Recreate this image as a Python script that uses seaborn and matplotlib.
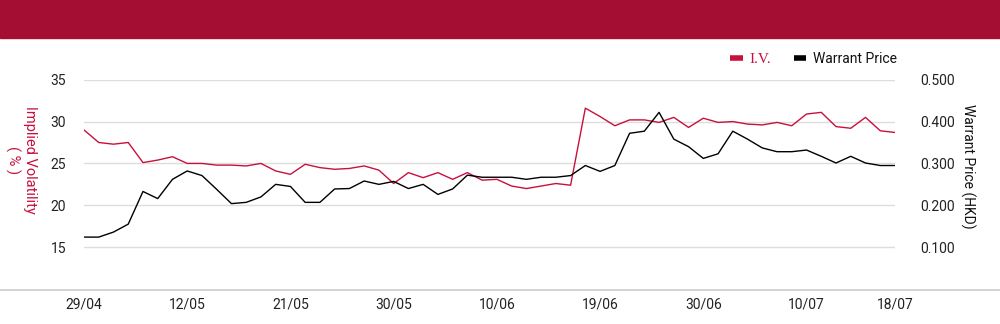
import numpy as np
import pandas as pd
import matplotlib
matplotlib.use("Agg")
import matplotlib.pyplot as plt
import seaborn as sns
from matplotlib.lines import Line2D

# ---- data ----
dates = ["29/04", "30/04", "02/05", "06/05", "07/05", "08/05", "09/05", "12/05",
         "13/05", "14/05", "15/05", "16/05", "19/05", "20/05", "21/05",
         "22/05", "23/05", "26/05", "27/05", "28/05", "29/05", "30/05",
         "03/06", "04/06", "05/06", "06/06", "07/06", "09/06", "10/06",
         "11/06", "12/06", "13/06", "16/06", "17/06", "18/06", "19/06",
         "20/06", "23/06", "24/06", "25/06", "26/06", "27/06", "30/06",
         "02/07", "03/07", "04/07", "07/07", "08/07", "09/07", "10/07",
         "11/07", "14/07", "15/07", "16/07", "17/07", "18/07"]
iv = [29.0, 27.5, 27.3, 27.5, 25.1, 25.4, 25.8, 25.0, 25.0, 24.8, 24.8, 24.7, 25.0, 24.1, 23.7,
      24.9, 24.5, 24.3, 24.4, 24.7, 24.2, 22.6, 23.9, 23.3, 23.9, 23.1, 23.9, 23.0, 23.1,
      22.3, 22.0, 22.3, 22.6, 22.4, 31.6, 30.6, 29.5, 30.2, 30.2, 29.9, 30.5, 29.3, 30.4,
      29.9, 30.0, 29.7, 29.6, 29.9, 29.5, 30.9, 31.1, 29.4, 29.2, 30.5, 28.9, 28.7]
price = [0.124, 0.124, 0.136, 0.155, 0.233, 0.216, 0.262, 0.282, 0.271, 0.238, 0.204, 0.207,
         0.220, 0.250, 0.245, 0.207, 0.207, 0.239, 0.240, 0.258, 0.250, 0.257, 0.240, 0.250,
         0.226, 0.239, 0.272, 0.267, 0.267, 0.267, 0.262, 0.267, 0.267, 0.271, 0.295, 0.281,
         0.295, 0.372, 0.377, 0.422, 0.358, 0.340, 0.312, 0.323, 0.377, 0.358, 0.337, 0.328,
         0.328, 0.332, 0.317, 0.301, 0.317, 0.301, 0.295, 0.295]
tick_labels = ["29/04", "12/05", "21/05", "30/05", "10/06", "19/06", "30/06", "10/07", "18/07"]
iv_ticks = [15, 20, 25, 30, 35]
price_ticks = [0.1, 0.2, 0.3, 0.4, 0.5]

RED = "#C8103E"
BANNER = "#A50E33"

df = pd.DataFrame({"idx": np.arange(len(dates)), "date": dates, "iv": iv, "price": price})

sns.set_theme(style="white")
plt.rcParams["font.family"] = ["Roboto", "DejaVu Sans"]

fig = plt.figure(figsize=(10, 3.24), dpi=100)
ax = fig.add_axes([0.084, 0.108, 0.811, 0.646])
ax2 = ax.twinx()

sns.lineplot(data=df, x="idx", y="iv", ax=ax, color=RED, linewidth=1.0)
sns.lineplot(data=df, x="idx", y="price", ax=ax2, color="black", linewidth=1.0)

ax.set_xlim(0, len(dates) - 1)
ax.set_ylim(10, 35)
ax2.set_ylim(0, 0.5)

ax.set_yticks(iv_ticks)
ax.set_yticklabels([str(v) for v in iv_ticks], fontsize=10, color="#222222")
ax2.set_yticks(price_ticks)
ax2.set_yticklabels([f"{v:.3f}" for v in price_ticks], fontsize=10, color="#222222")

pos = [dates.index(t) for t in tick_labels]
ax.set_xticks(pos)
ax.set_xticklabels(tick_labels, fontsize=10, color="#222222")
ax.tick_params(axis="x", length=0, pad=6)
ax.tick_params(axis="y", length=0, pad=13)
ax2.tick_params(axis="y", length=0, pad=18)

ax.grid(axis="y", color="#dddddd", linewidth=1.0)
ax.grid(axis="x", visible=False)
ax2.grid(False)
for a in (ax, ax2):
    for s in a.spines.values():
        s.set_visible(False)
    a.set_xlabel("")

ax.set_ylabel("Implied Volatility\n( % )", color=RED, fontsize=10.5, rotation=-90,
              linespacing=1.25, va="center", ha="center")
ax.yaxis.set_label_coords(-0.078, 0.617)
ax2.set_ylabel("Warrant Price (HKD)", color="#111111", fontsize=10, rotation=-90,
               va="center", ha="center")
ax2.yaxis.set_label_coords(1.09, 0.584)

# legend
handles = [Line2D([0], [0], color=RED, linewidth=4, solid_capstyle="butt"),
           Line2D([0], [0], color="black", linewidth=4, solid_capstyle="butt")]
leg = fig.legend(handles, ["I.V.", "Warrant Price"], loc="center right",
                 bbox_to_anchor=(0.897, 0.818), ncol=2, frameon=False, fontsize=10,
                 handlelength=0.9, handletextpad=0.5, columnspacing=1.6,
                 borderaxespad=0, borderpad=0)
t0, t1 = leg.get_texts()
t0.set_color(RED)
t0.set_family(["Liberation Serif", "DejaVu Serif"])
t0.set_fontsize(11)
t1.set_color("#111111")

# banner and bottom rule
fig.patches.append(plt.Rectangle((0, 1 - 38 / 324), 1, 38 / 324, transform=fig.transFigure,
                                 color=BANNER, zorder=0))
fig.add_artist(Line2D([0, 1], [1 - 289.5 / 324] * 2, transform=fig.transFigure,
                      color="#cccccc", linewidth=1.2))

fig.savefig("out.png", dpi=100)
